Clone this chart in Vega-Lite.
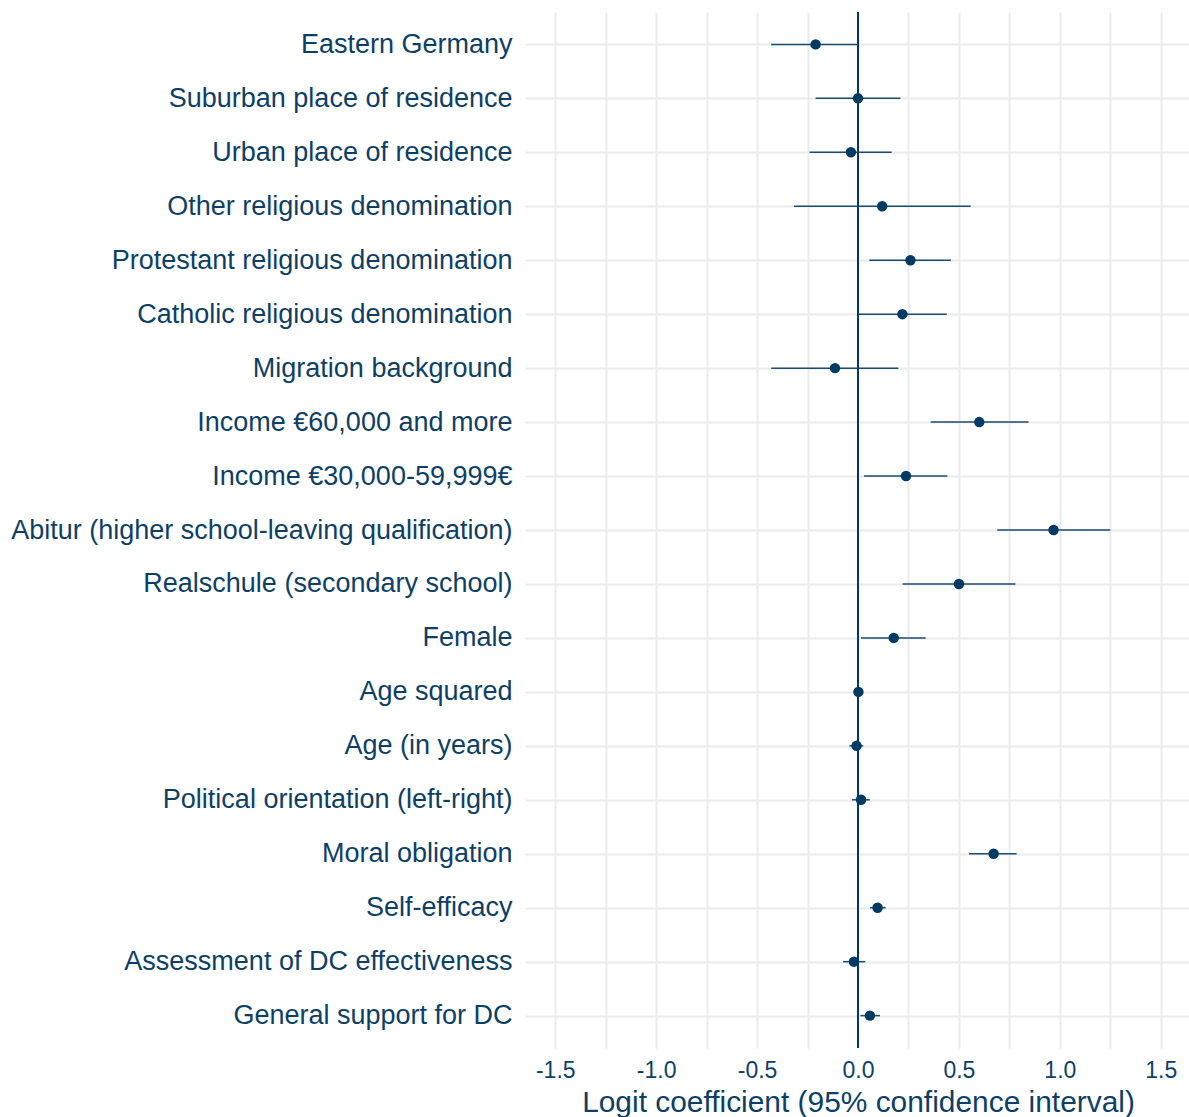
{
  "$schema": "https://vega.github.io/schema/vega-lite/v6.json",
  "autosize": "none",
  "padding": {"left": 525, "top": 12, "right": 0, "bottom": 69},
  "width": 666,
  "height": 1036,
  "background": "white",
  "config": {
    "view": {"stroke": null},
    "font": "Liberation Sans"
  },
  "data": {
    "values": [
      {"term": "Eastern Germany", "est": -0.21, "lo": -0.43, "hi": 0.0},
      {"term": "Suburban place of residence", "est": 0.0, "lo": -0.21, "hi": 0.21},
      {"term": "Urban place of residence", "est": -0.035, "lo": -0.24, "hi": 0.167},
      {"term": "Other religious denomination", "est": 0.12, "lo": -0.317, "hi": 0.558},
      {"term": "Protestant religious denomination", "est": 0.26, "lo": 0.056, "hi": 0.46},
      {"term": "Catholic religious denomination", "est": 0.22, "lo": 0.003, "hi": 0.44},
      {"term": "Migration background", "est": -0.114, "lo": -0.43, "hi": 0.2},
      {"term": "Income €60,000 and more", "est": 0.601, "lo": 0.36, "hi": 0.845},
      {"term": "Income €30,000-59,999€", "est": 0.238, "lo": 0.03, "hi": 0.443},
      {"term": "Abitur (higher school-leaving qualification)", "est": 0.969, "lo": 0.69, "hi": 1.25},
      {"term": "Realschule (secondary school)", "est": 0.5, "lo": 0.221, "hi": 0.78},
      {"term": "Female", "est": 0.177, "lo": 0.015, "hi": 0.335},
      {"term": "Age squared", "est": 0.002, "lo": 0.0, "hi": 0.005},
      {"term": "Age (in years)", "est": -0.007, "lo": -0.043, "hi": 0.026},
      {"term": "Political orientation (left-right)", "est": 0.015, "lo": -0.03, "hi": 0.058},
      {"term": "Moral obligation", "est": 0.672, "lo": 0.55, "hi": 0.786},
      {"term": "Self-efficacy", "est": 0.097, "lo": 0.059, "hi": 0.137},
      {"term": "Assessment of DC effectiveness", "est": -0.02, "lo": -0.074, "hi": 0.036},
      {"term": "General support for DC", "est": 0.059, "lo": 0.012, "hi": 0.109}
    ]
  },
  "encoding": {
    "y": {
      "field": "term",
      "type": "nominal",
      "sort": null,
      "scale": {"type": "point", "padding": 0.6},
      "axis": {
        "title": null,
        "domain": false,
        "ticks": false,
        "labelPadding": 13,
        "labelLimit": 700,
        "labelFontSize": 27,
        "labelColor": "#0d3f66",
        "labelFont": "Liberation Sans",
        "grid": true,
        "gridColor": "#ebebeb",
        "gridWidth": 2
      }
    }
  },
  "layer": [
    {
      "mark": {"type": "rule", "color": "#003b64", "strokeWidth": 1.5},
      "encoding": {
        "y": null,
        "x": {
          "datum": 0,
          "type": "quantitative",
          "scale": {"domain": [-1.65, 1.65], "nice": false, "zero": false},
          "axis": {
            "title": "Logit coefficient (95% confidence interval)",
            "values": [-1.5, -1.25, -1, -0.75, -0.5, -0.25, 0, 0.25, 0.5, 0.75, 1, 1.25, 1.5],
            "labelExpr": "abs(datum.value*2 - round(datum.value*2)) < 0.001 ? replace(format(datum.value, '.1f'), '\u2212', '-') : ''",
            "domain": false,
            "ticks": false,
            "grid": true,
            "gridColor": "#ebebeb",
            "gridWidth": 2,
            "labelPadding": 11,
            "labelFontSize": 23,
            "labelColor": "#0d3f66",
            "labelFont": "Liberation Sans",
            "titleFontSize": 29.9,
            "titleFontWeight": "normal",
            "titleColor": "#0d3f66",
            "titleFont": "Liberation Sans",
            "titleBaseline": "alphabetic",
            "titleY": 63
          }
        }
      }
    },
    {
      "mark": {"type": "rule", "color": "#1d4a70", "strokeWidth": 1.5},
      "encoding": {
        "x": {"field": "lo", "type": "quantitative"},
        "x2": {"field": "hi"}
      }
    },
    {
      "mark": {"type": "point", "filled": true, "opacity": 1, "color": "#003b64", "size": 110},
      "encoding": {
        "x": {"field": "est", "type": "quantitative"}
      }
    }
  ]
}
